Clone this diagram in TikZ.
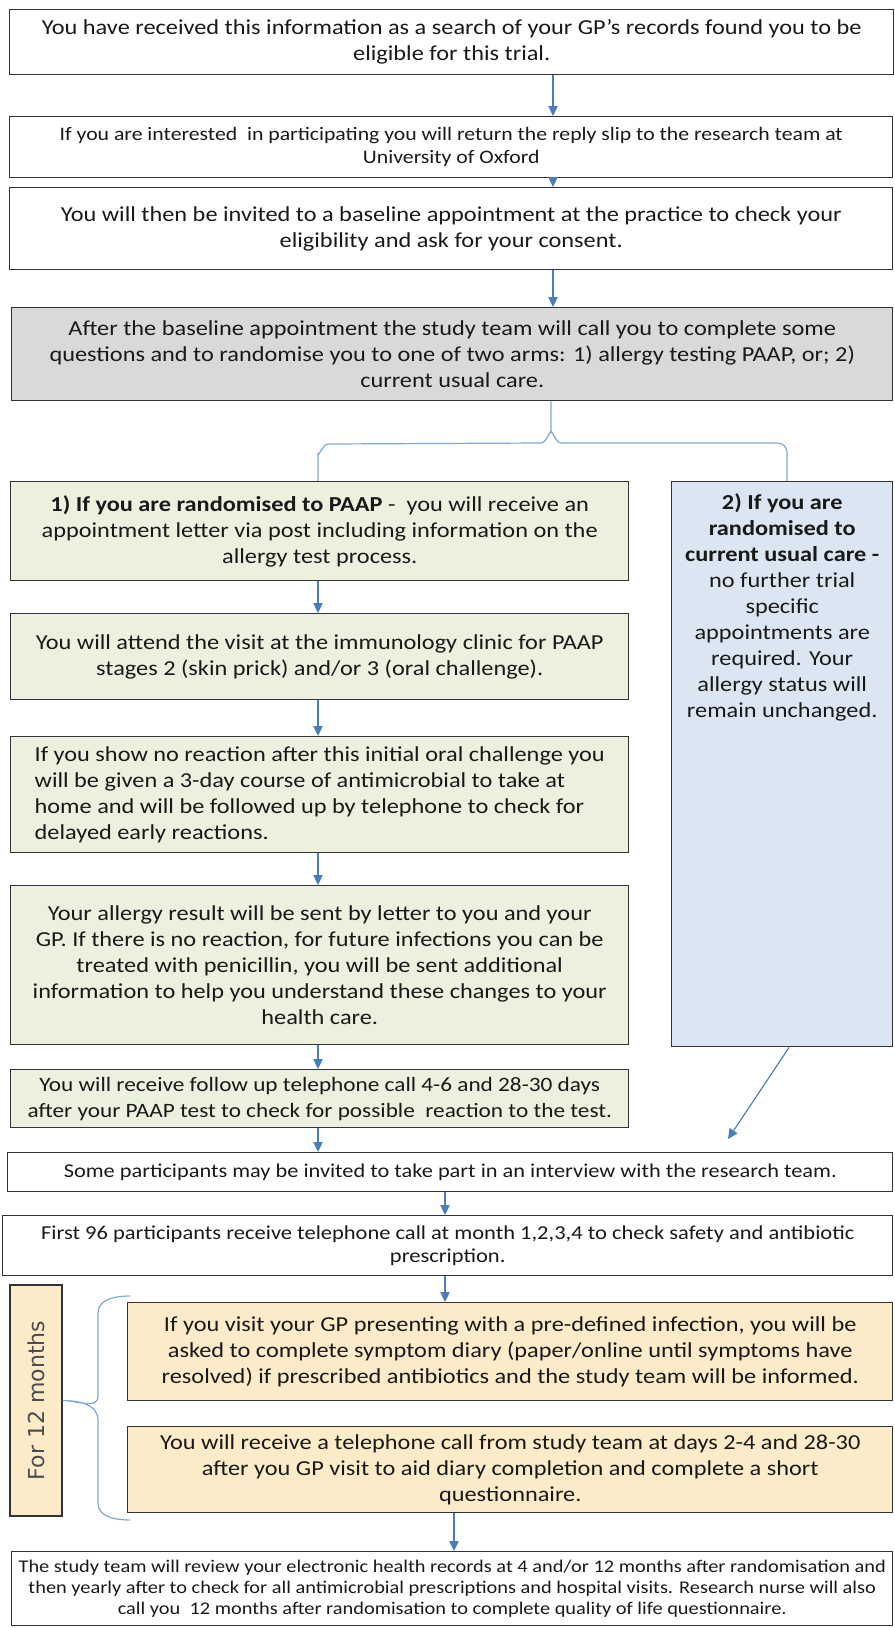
\documentclass[tikz,border=0pt]{standalone}
\usepackage{fontspec}
\setmainfont{Carlito}[FakeStretch=1.14]
\newfontfamily\sidefont{DejaVu Sans}
\usetikzlibrary{arrows.meta, calc}
\definecolor{cLine}{HTML}{333333}
\definecolor{cArrow}{HTML}{4A7EBB}
\definecolor{cBrace}{HTML}{7FA7D6}
\definecolor{cGrey}{HTML}{D9D9D9}
\definecolor{cGreen}{HTML}{EBF1DE}
\definecolor{cBlue}{HTML}{DCE6F2}
\definecolor{cYellow}{HTML}{FCEBC8}
\newlength\px
\setlength\px{0.75pt}

\begin{document}
\begin{tikzpicture}[x=0.75pt, y=-0.75pt,
    flowbox/.style={draw=cLine, line width=1.1pt, align=center, inner sep=0pt, anchor=north west,
      text=black!90, font=\fontsize{16pt}{19.5pt}\selectfont},
    arr/.style={draw=cArrow, line width=0.9pt, -{Triangle[width=7pt,length=7.5pt]}, fill=cArrow},
    bracel/.style={draw=cBrace, line width=0.9pt}]
  \useasboundingbox (0,0) rectangle (895,1628);
  % columns for the connectors
  \coordinate (colA) at (553,0);
  \coordinate (colB) at (318,0);
  \coordinate (colC) at (787,0);
  \coordinate (colD) at (445,0);
  \coordinate (colE) at (454,0);

  % common steps
  \node[flowbox, minimum width=884\px, minimum height=65\px] (recv) at (9,9)
    {You have received this information as a search of your GP’s records found you to be\\ eligible for this trial.};
  \node[flowbox, minimum width=883\px, minimum height=61\px, font=\fontsize{14.3pt}{17.25pt}\selectfont] (reply) at (9,116)
    {If you are interested\ \ in participating you will return the reply slip to the research team at\\ University of Oxford};
  \node[flowbox, minimum width=883\px, minimum height=82\px] (baseline) at (9,187)
    {You will then be invited to a baseline appointment at the practice to check your\\ eligibility and ask for your consent.};
  \node[flowbox, fill=cGrey, minimum width=881\px, minimum height=93\px] (random) at (11,307)
    {After the baseline appointment the study team will call you to complete some\\ questions and to randomise you to one of two arms: 1) allergy testing PAAP, or; 2)\\ current usual care.};

  % arm 1
  \node[flowbox, fill=cGreen, minimum width=618\px, minimum height=99\px] (paap) at (10,481)
    {\textbf{1) If you are randomised to PAAP} -\ \ you will receive an\\ appointment letter via post including information on the\\ allergy test process.};
  \node[flowbox, fill=cGreen, minimum width=618\px, minimum height=86\px] (clinic) at (10,613)
    {You will attend the visit at the immunology clinic for PAAP\\ stages 2 (skin prick) and/or 3 (oral challenge).};
  \node[flowbox, fill=cGreen, minimum width=618\px, minimum height=116\px, align=left] (course) at (10,736)
    {If you show no reaction after this initial oral challenge you\\ will be given a 3-day course of antimicrobial to take at\\ home and will be followed up by telephone to check for\\ delayed early reactions.};
  \node[flowbox, fill=cGreen, minimum width=618\px, minimum height=159\px] (result) at (10,885)
    {Your allergy result will be sent by letter to you and your\\ GP. If there is no reaction, for future infections you can be\\ treated with penicillin, you will be sent additional\\ information to help you understand these changes to your\\ health care.};
  \node[flowbox, fill=cGreen, minimum width=618\px, minimum height=58\px, font=\fontsize{15.3pt}{19.5pt}\selectfont] (follow) at (10,1069)
    {You will receive follow up telephone call 4-6 and 28-30 days\\ after your PAAP test to check for possible\ \ reaction to the test.};

  % arm 2
  \node[flowbox, fill=cBlue, minimum width=221\px, minimum height=565\px] (usual) at (671,481) {};
  \node[align=center, anchor=north, inner sep=0pt, text=black!90, font=\fontsize{16pt}{19.5pt}\selectfont] (usualtxt) at ($(usual.north)+(0,12)$)
    {\textbf{2) If you are}\\ \textbf{randomised to}\\ \textbf{current usual care -}\\ no further trial\\ specific\\ appointments are\\ required. Your\\ allergy status will\\ remain unchanged.};

  % follow-up
  \node[flowbox, minimum width=885\px, minimum height=39\px, font=\fontsize{14.7pt}{17.25pt}\selectfont] (interview) at (7,1152)
    {Some participants may be invited to take part in an interview with the research team.};
  \node[flowbox, minimum width=890\px, minimum height=60\px, font=\fontsize{14.8pt}{17.25pt}\selectfont] (first96) at (2,1215)
    {First 96 participants receive telephone call at month 1,2,3,4 to check safety and antibiotic\\ prescription.};
  \node[flowbox, fill=cYellow, rotate=90, anchor=center, minimum width=231\px, minimum height=52\px,
    font=\sidefont\fontsize{16.5pt}{19pt}\selectfont, text=black!70] (months) at (36,1400.5) {For 12 months};
  \node[flowbox, fill=cYellow, minimum width=765\px, minimum height=98\px] (diary) at (127,1302)
    {If you visit your GP presenting with a pre-defined infection, you will be\\ asked to complete symptom diary (paper/online until symptoms have\\ resolved) if prescribed antibiotics and the study team will be informed.};
  \node[flowbox, fill=cYellow, minimum width=765\px, minimum height=86\px] (phone) at (127,1426)
    {You will receive a telephone call from study team at days 2-4 and 28-30\\ after you GP visit to aid diary completion and complete a short\\ questionnaire.};
  \node[flowbox, minimum width=881\px, minimum height=74\px, font=\fontsize{13.4pt}{15.4pt}\selectfont] (records) at (11,1551)
    {The study team will review your electronic health records at 4 and/or 12 months after randomisation and\\ then yearly after to check for all antimicrobial prescriptions and hospital visits. Research nurse will also\\ call you\ \ 12 months after randomisation to complete quality of life questionnaire.};

  % connectors
  \draw[arr] (recv.south -| colA) -- (reply.north -| colA);
  \draw[arr] (reply.south -| colA) -- (baseline.north -| colA);
  \draw[arr] (baseline.south -| colA) -- (random.north -| colA);
  \draw[arr] (paap.south -| colB) -- (clinic.north -| colB);
  \draw[arr] (clinic.south -| colB) -- (course.north -| colB);
  \draw[arr] (course.south -| colB) -- (result.north -| colB);
  \draw[arr] (result.south -| colB) -- (follow.north -| colB);
  \draw[arr] (follow.south -| colB) -- (interview.north -| colB);
  \coordinate (joinpt) at (728,1139);
  \draw[arr] ($(usual.south -| colC)+(2,0)$) -- (joinpt);
  \draw[arr] (interview.south -| colD) -- (first96.north -| colD);
  \draw[arr] (first96.south -| colD) -- (diary.north -| colD);
  \draw[arr] (phone.south -| colE) -- (records.north -| colE);

  % braces
  \draw[bracel] (paap.north -| colB) -- ++(0,-28) to[out=-90,in=180] ++(10,-9) -- (541,443)
    to[out=0,in=90] (551,433) -- (random.south -| 551,0);
  \draw[bracel] (551,433) to[out=90,in=180] (561,443) -- (777,443)
    to[out=0,in=90] ++(10,9) -- (usual.north -| colC);
  \draw[bracel] (130,1296) to[out=180,in=90] (98,1313) -- (98,1396)
    to[out=-90,in=0] (months.south) to[out=0,in=90] (98,1420) -- (98,1503)
    to[out=-90,in=180] (130,1520);
\end{tikzpicture}
\end{document}
